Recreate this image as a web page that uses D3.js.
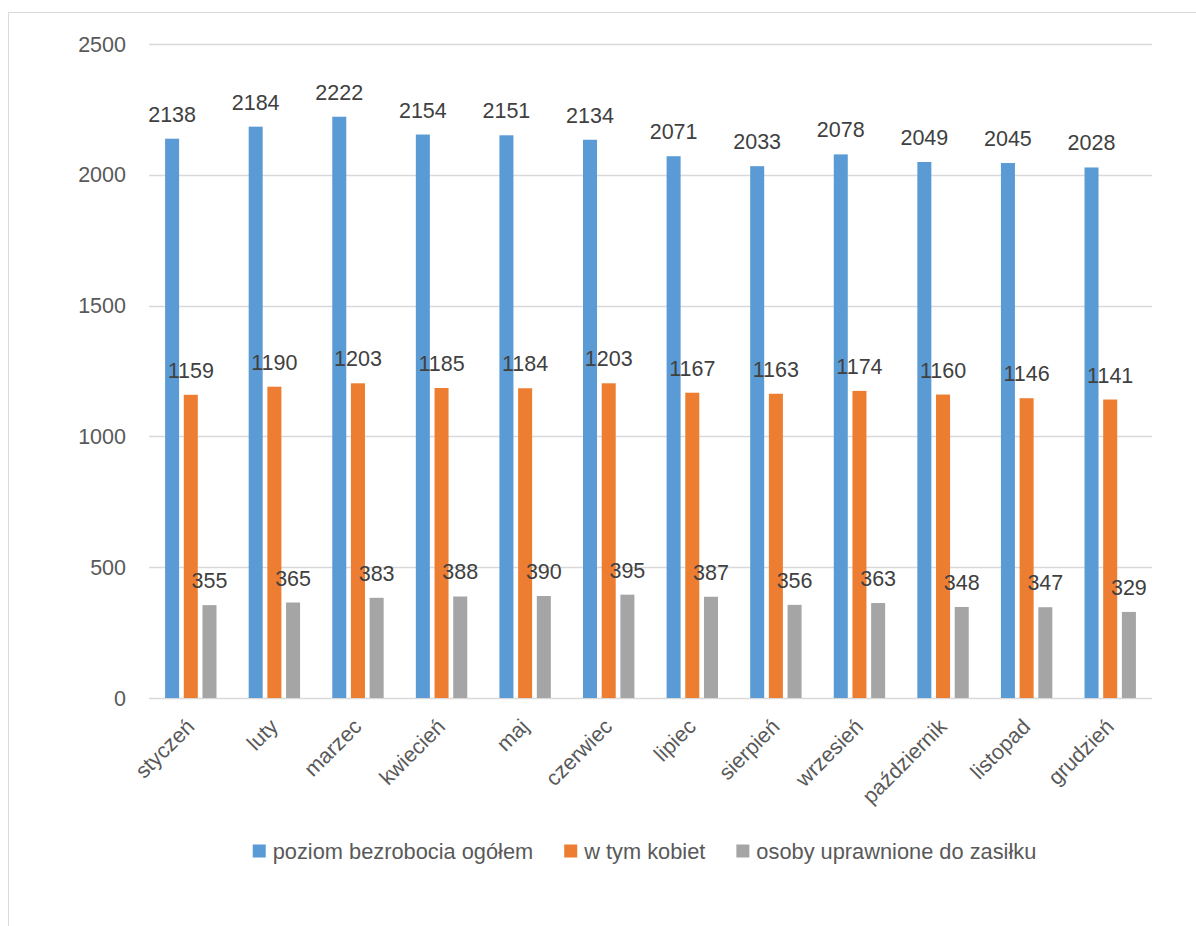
<!DOCTYPE html>
<html><head><meta charset="utf-8">
<script src="https://cdn.jsdelivr.net/npm/d3@7"></script>
<style>body{margin:0;background:#fff}svg{display:block}</style>
</head><body>
<svg id="c" width="1196" height="926"></svg>
<script>
const months = ["styczeń","luty","marzec","kwiecień","maj","czerwiec","lipiec","sierpień","wrzesień","październik","listopad","grudzień"];
const seriesNames = ["poziom bezrobocia ogółem","w tym kobiet","osoby uprawnione do zasiłku"];
const total = [2138,2184,2222,2154,2151,2134,2071,2033,2078,2049,2045,2028];
const women = [1159,1190,1203,1185,1184,1203,1167,1163,1174,1160,1146,1141];
const benefit = [355,365,383,388,390,395,387,356,363,348,347,329];
const yTicks = [0,500,1000,1500,2000,2500];
const colors = ["#5B9BD5","#ED7D31","#A5A5A5"];

(function(){
const series = [total, women, benefit];
const svg = d3.select("#c");
const font = "'Liberation Sans', Arial, sans-serif";

// outer frame
svg.append("path").attr("d","M8.5,926 V12.5 H1196").attr("fill","none").attr("stroke","#D9D9D9").attr("stroke-width",1);

const pL = 149, pR = 1152, pT = 44, pB = 698;
const x0 = d3.scaleBand().domain(months).range([pL,pR]);
const x1 = d3.scaleBand().domain(d3.range(3)).range([0,51.4]).paddingInner(0.25).paddingOuter(0);
const y = d3.scaleLinear().domain([0,2500]).range([pB,pT]);

// grid
svg.append("g").selectAll("line").data(yTicks).join("line")
  .attr("x1",pL).attr("x2",pR)
  .attr("y1",d=>Math.round(y(d))+0.5).attr("y2",d=>Math.round(y(d))+0.5)
  .attr("stroke","#D9D9D9").attr("stroke-width",1.3);

// y labels
svg.append("g").selectAll("text").data(yTicks).join("text")
  .attr("x",126).attr("y",d=>y(d)).attr("dy","0.35em")
  .attr("text-anchor","end").attr("font-family",font).attr("font-size",21.5)
  .attr("fill","#595959").text(d=>d);

// bars + labels
series.forEach((vals,si)=>{
  const g = svg.append("g");
  g.selectAll("rect").data(vals).join("rect")
    .attr("x",(d,i)=>x0(months[i]) + x0.bandwidth()/2 - 25.7 + x1(si))
    .attr("y",d=>y(d)).attr("width",x1.bandwidth()).attr("height",d=>pB-y(d))
    .attr("fill",colors[si]);
  g.selectAll("text").data(vals).join("text")
    .attr("x",(d,i)=>x0(months[i]) + x0.bandwidth()/2 - 25.7 + x1(si) + x1.bandwidth()/2)
    .attr("y",d=>y(d)-17)
    .attr("text-anchor","middle").attr("font-family",font).attr("font-size",21.5)
    .attr("fill","#404040").text(d=>d);
});

// x labels
svg.append("g").selectAll("text").data(months).join("text")
  .attr("transform",d=>`translate(${x0(d)+x0.bandwidth()/2+5},${728}) rotate(-45)`)
  .attr("text-anchor","end").attr("font-family",font).attr("font-size",21.5)
  .attr("fill","#595959").text(d=>d);

// legend
const lg = svg.append("g");
let lx = 0;
seriesNames.forEach((n,i)=>{
  const it = lg.append("g").attr("transform",`translate(${lx},0)`);
  it.append("rect").attr("x",0).attr("y",-6.5).attr("width",13).attr("height",13).attr("fill",colors[i]);
  const t = it.append("text").attr("x",20).attr("y",0).attr("dy","0.35em")
    .attr("font-family",font).attr("font-size",21.8).attr("fill","#595959").text(n);
  lx += 20 + t.node().getComputedTextLength() + 31;
});
const lw = lx - 31;
lg.attr("transform",`translate(${644.5 - lw/2},851)`);
})();
</script>
</body></html>
